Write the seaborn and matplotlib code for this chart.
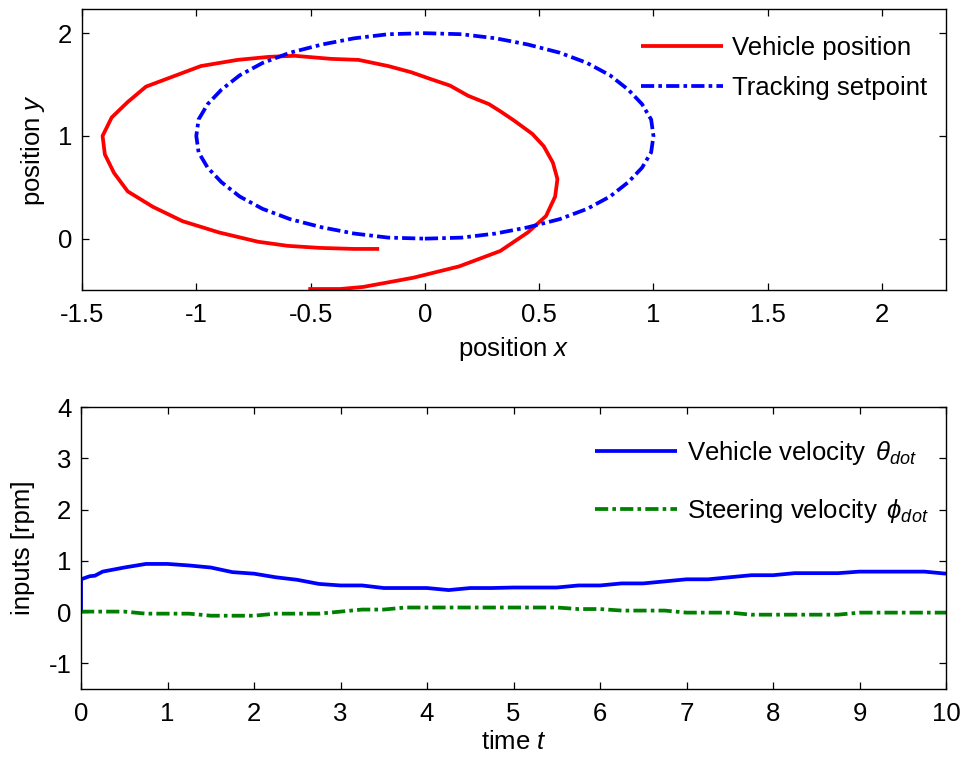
import numpy as np
import pandas as pd
import matplotlib
matplotlib.use("Agg")
import matplotlib.pyplot as plt
import seaborn as sns

# ---- trajectory in the plane ----
vehicle_x = [-0.51, -0.37, -0.27, -0.05, 0.15, 0.33, 0.45, 0.53, 0.57, 0.58, 0.56,
             0.52, 0.47, 0.39, 0.33, 0.28, 0.19, 0.11, 0.03, -0.06, -0.16, -0.29,
             -0.41, -0.57, -0.68, -0.82, -0.98, -1.10, -1.22, -1.30, -1.37, -1.41,
             -1.40, -1.36, -1.30, -1.19, -1.06, -0.90, -0.73, -0.60, -0.46, -0.31, -0.20]
vehicle_y = [-0.49, -0.49, -0.47, -0.38, -0.27, -0.12, 0.06, 0.22, 0.41, 0.58, 0.74,
             0.90, 1.02, 1.15, 1.24, 1.31, 1.39, 1.49, 1.55, 1.62, 1.68, 1.74,
             1.75, 1.78, 1.77, 1.74, 1.68, 1.58, 1.48, 1.33, 1.18, 1.00,
             0.82, 0.64, 0.46, 0.31, 0.17, 0.06, -0.03, -0.07, -0.09, -0.10, -0.10]

setpoint_x = [0.00, 0.16, 0.31, 0.45, 0.59, 0.71, 0.81, 0.89, 0.95, 0.99, 1.00,
              0.99, 0.95, 0.89, 0.81, 0.71, 0.59, 0.45, 0.31, 0.16, 0.00,
              -0.16, -0.31, -0.45, -0.59, -0.71, -0.81, -0.89, -0.95, -0.99, -1.00,
              -0.99, -0.95, -0.89, -0.81, -0.71, -0.59, -0.45, -0.31, -0.16, 0.00]
setpoint_y = [0.00, 0.01, 0.05, 0.11, 0.19, 0.29, 0.41, 0.55, 0.69, 0.84, 1.00,
              1.16, 1.31, 1.45, 1.59, 1.71, 1.81, 1.89, 1.95, 1.99, 2.00,
              1.99, 1.95, 1.89, 1.81, 1.71, 1.59, 1.45, 1.31, 1.16, 1.00,
              0.84, 0.69, 0.55, 0.41, 0.29, 0.19, 0.11, 0.05, 0.01, 0.00]

# ---- control inputs over time ----
theta_t = [0.0, 0.0, 0.10, 0.16, 0.25, 0.5, 0.75, 1.0, 1.25, 1.5, 1.75, 2.0, 2.25, 2.5,
           2.75, 3.0, 3.25, 3.5, 3.75, 4.0, 4.25, 4.5, 4.75, 5.0, 5.25, 5.5, 5.75,
           6.0, 6.25, 6.5, 6.75, 7.0, 7.25, 7.5, 7.75, 8.0, 8.25, 8.5, 8.75, 9.0,
           9.25, 9.5, 9.75, 10.0]
theta_dot = [0.0, 0.64, 0.70, 0.71, 0.79, 0.87, 0.94, 0.94, 0.91, 0.87, 0.78, 0.75,
             0.68, 0.63, 0.55, 0.52, 0.52, 0.47, 0.47, 0.47, 0.43, 0.47, 0.47, 0.48,
             0.48, 0.48, 0.52, 0.52, 0.56, 0.56, 0.60, 0.64, 0.64, 0.68, 0.72, 0.72,
             0.76, 0.76, 0.76, 0.79, 0.79, 0.79, 0.79, 0.75]

phi_t = [0.0, 0.25, 0.5, 0.75, 1.0, 1.25, 1.5, 1.75, 2.0, 2.25, 2.5, 2.75, 3.0,
         3.25, 3.5, 3.75, 4.0, 4.25, 4.5, 4.75, 5.0, 5.25, 5.5, 5.75, 6.0, 6.25,
         6.5, 6.75, 7.0, 7.25, 7.5, 7.75, 8.0, 8.25, 8.5, 8.75, 9.0, 9.25, 9.5,
         9.75, 10.0]
phi_dot = [0.01, 0.01, 0.01, -0.03, -0.03, -0.03, -0.07, -0.07, -0.07, -0.03, -0.03,
           -0.03, 0.01, 0.05, 0.05, 0.09, 0.09, 0.09, 0.09, 0.09, 0.09, 0.09, 0.09,
           0.06, 0.06, 0.03, 0.03, 0.03, -0.01, -0.01, -0.01, -0.05, -0.05, -0.05,
           -0.05, -0.05, -0.01, -0.01, -0.01, -0.01, -0.01]

xy_xticks = [-1.5, -1, -0.5, 0, 0.5, 1, 1.5, 2]
xy_xticklabels = ["-1.5", "-1", "-0.5", "0", "0.5", "1", "1.5", "2"]
xy_yticks = [0, 1, 2]
xy_yticklabels = ["0", "1", "2"]
t_xticks = list(range(0, 11))
t_xticklabels = [str(v) for v in t_xticks]
t_yticks = [-1, 0, 1, 2, 3, 4]
t_yticklabels = ["-1", "0", "1", "2", "3", "4"]

sns.set_theme(style="ticks")
plt.rcParams["font.family"] = ["Liberation Sans", "DejaVu Sans"]
plt.rcParams["mathtext.fontset"] = "custom"
plt.rcParams["mathtext.rm"] = "Liberation Sans"
plt.rcParams["mathtext.it"] = "Liberation Sans:italic"
plt.rcParams["mathtext.bf"] = "Liberation Sans:bold"
plt.rcParams["lines.scale_dashes"] = False
plt.rcParams["text.color"] = "black"
plt.rcParams["axes.labelcolor"] = "black"
plt.rcParams["xtick.color"] = "black"
plt.rcParams["ytick.color"] = "black"

FS = 18.5
LW = 2.7
DASHDOT = (0, (9.5, 3.0, 2.6, 3.0))

fig = plt.figure(figsize=(9.67, 7.6), dpi=100)
fig.patch.set_facecolor("white")
ax1 = fig.add_axes([0.0848, 0.6184, 0.8935, 0.3697])
ax2 = fig.add_axes([0.0838, 0.0934, 0.8945, 0.3710])

traj = pd.DataFrame({"x": vehicle_x, "y": vehicle_y})
ref = pd.DataFrame({"x": setpoint_x, "y": setpoint_y})
sns.lineplot(data=traj, x="x", y="y", sort=False, estimator=None, ax=ax1,
             color="#ff0000", lw=LW, label="Vehicle position")
sns.lineplot(data=ref, x="x", y="y", sort=False, estimator=None, ax=ax1,
             color="#0000ff", lw=LW, linestyle=DASHDOT, label="Tracking setpoint")

vel = pd.DataFrame({"t": theta_t, "v": theta_dot})
steer = pd.DataFrame({"t": phi_t, "v": phi_dot})
sns.lineplot(data=vel, x="t", y="v", sort=False, estimator=None, ax=ax2,
             color="#0000ff", lw=LW, label=r"Vehicle velocity $\,\theta_{dot}$")
sns.lineplot(data=steer, x="t", y="v", sort=False, estimator=None, ax=ax2,
             color="#008000", lw=LW, linestyle=DASHDOT,
             label=r"Steering velocity $\,\phi_{dot}$")

for line in ax1.lines + ax2.lines:
    line.set_dash_capstyle("butt")
    line.set_solid_capstyle("butt")

ax1.set_xlim(-1.5, 2.28)
ax1.set_ylim(-0.5, 2.235)
ax1.set_xticks(xy_xticks)
ax1.set_xticklabels(xy_xticklabels)
ax1.set_yticks(xy_yticks)
ax1.set_yticklabels(xy_yticklabels)
ax1.set_xlabel("position $x$", fontsize=FS)
ax1.set_ylabel("position $y$", fontsize=FS)
ax1.xaxis.set_label_coords(0.5, -0.16)
ax1.yaxis.set_label_coords(-0.041, 0.5)

ax2.set_xlim(0, 10)
ax2.set_ylim(-1.5, 4)
ax2.set_xticks(t_xticks)
ax2.set_xticklabels(t_xticklabels)
ax2.set_yticks(t_yticks)
ax2.set_yticklabels(t_yticklabels)
ax2.set_xlabel("time $t$", fontsize=FS)
ax2.set_ylabel("inputs [rpm]", fontsize=FS)
ax2.xaxis.set_label_coords(0.5, -0.145)
ax2.yaxis.set_label_coords(-0.053, 0.5)

for ax in (ax1, ax2):
    ax.set_facecolor("white")
    ax.grid(False)
    for s in ax.spines.values():
        s.set_visible(True)
        s.set_color("black")
        s.set_linewidth(1.0)
    ax.tick_params(which="both", direction="in", top=True, right=True,
                   length=5, width=0.9, color="black", labelsize=FS,
                   labelcolor="black")
    ax.tick_params(axis="x", pad=9)
    ax.tick_params(axis="y", pad=7)

ax1.legend(loc="upper left", bbox_to_anchor=(0.647, 0.905), frameon=False,
           fontsize=FS, handlelength=3.2, handletextpad=0.36, borderpad=0,
           borderaxespad=0, labelspacing=0.62)
ax2.legend(loc="upper left", bbox_to_anchor=(0.594, 0.885), frameon=False,
           fontsize=FS, handlelength=3.2, handletextpad=0.4, borderpad=0,
           borderaxespad=0, labelspacing=1.15)

fig.savefig("out.png", dpi=100, facecolor="white")
